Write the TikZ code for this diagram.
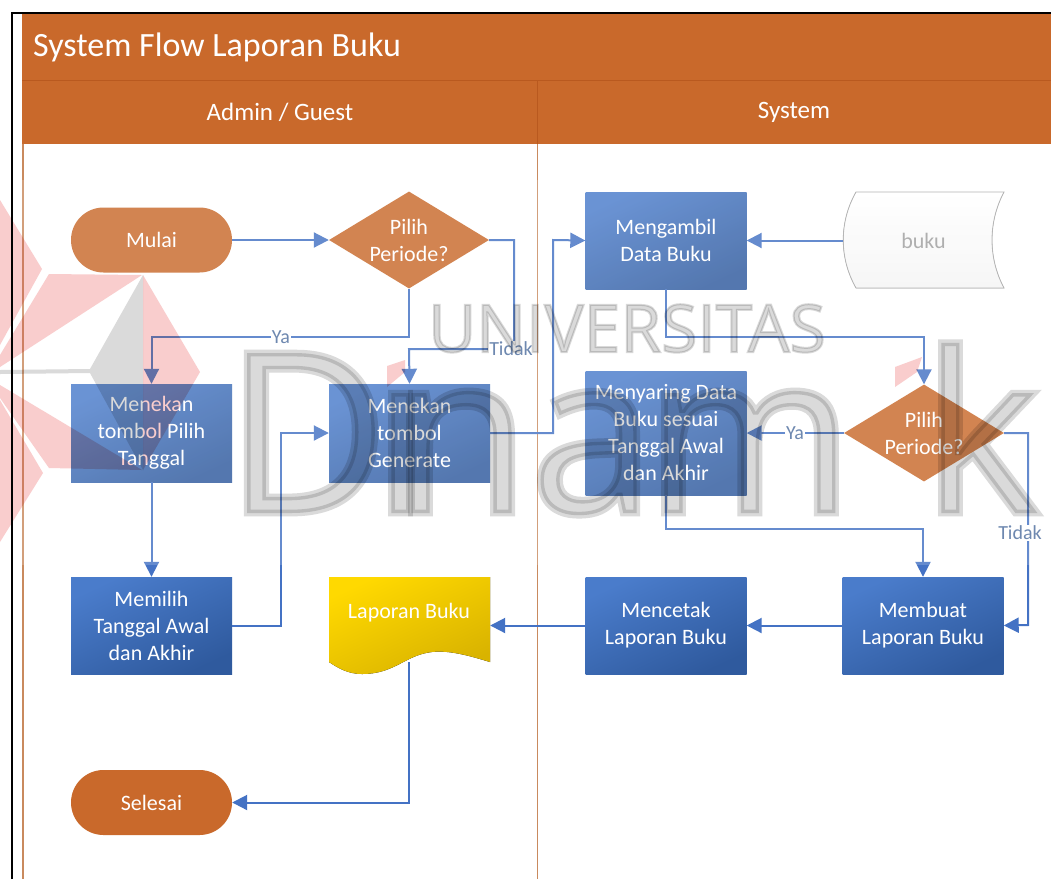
\documentclass[tikz,border=0pt]{standalone}
\usepackage{fontspec}
\setmainfont{Carlito}
\newfontfamily\wmfont[FakeBold=3]{Open Sans}
\usetikzlibrary{arrows.meta,shapes.geometric,shapes.misc,positioning}
\definecolor{poolor}{HTML}{C9692B}
\definecolor{poolline}{HTML}{B9591F}
\definecolor{lanel}{HTML}{C98A5E}
\definecolor{conn}{HTML}{4472C4}
\definecolor{lab}{HTML}{4F6F9F}
\definecolor{wmgrey}{HTML}{DADADA}
\definecolor{wmred}{HTML}{F9CDCD}
\definecolor{bluea}{HTML}{4A7CCB}
\definecolor{blueb}{HTML}{2F5A9E}
\tikzset{
  x=1pt,y=-1pt,
  bodytxt/.style={text=white,font=\fontsize{22}{27}\selectfont,align=center,inner sep=0pt},
  flowbox/.style={bodytxt,rectangle,minimum width=161pt,top color=bluea,bottom color=blueb,shading angle=25},
  decbox/.style={bodytxt,diamond,fill=poolor,minimum width=160pt,minimum height=97pt,shape aspect=1.65,inner sep=-1pt},
  termbox/.style={bodytxt,rounded rectangle,fill=poolor,minimum width=161pt,minimum height=65pt},
  ghost/.style={rectangle,inner sep=0pt,minimum width=161pt},
  link/.style={draw=conn,line width=2pt,-{Triangle[length=15pt,width=15pt]}},
  plainlink/.style={draw=conn,line width=2pt},
  flowlabel/.style={text=lab,fill=white,font=\fontsize{20}{22}\selectfont,inner sep=1pt},
  headtxt/.style={text=white,inner sep=0pt},
  wmletter/.style={anchor=base west,inner sep=0pt,text=wmgrey,font=\wmfont\fontsize{224}{224}\selectfont}
}
\begin{document}
\begin{tikzpicture}
\useasboundingbox (0,0) rectangle (1051,879);
\fill[white] (0,0) rectangle (1051,879);
% pool
\fill[poolor] (22,14) rectangle (1051,144);
\draw[poolline,line width=.8pt] (22,80) -- (1051,80);
\draw[poolline,line width=.8pt] (537,80) -- (537,144);
\draw[lanel,line width=1.6pt] (23,144) -- (23,879);
\draw[lanel,line width=1pt] (537,144) -- (537,879);
\node[headtxt,anchor=west,font=\fontsize{34}{36}\selectfont] (title) at (33,47) {System Flow Laporan Buku};
\node[headtxt,font=\fontsize{25}{28}\selectfont] (lane1) at (280,112) {Admin / Guest};
\node[headtxt,font=\fontsize{25}{28}\selectfont] (lane2) at (794,112) {System};
% special shapes
\fill[top color=white,bottom color=white!96!black,draw=black!35,line width=.8pt]
  (856,192) -- (1004,192) .. controls (988,222) and (988,258) .. (1004,288) -- (856,288)
  .. controls (839,258) and (839,222) .. (856,192) -- cycle;
\path[fill=none] (329,577);
\fill[left color=yellow!80!orange,right color=yellow!60!orange!85!black,top color=white!0!yellow!70!orange,bottom color=yellow!65!orange!85!black,shading angle=25]
  (329,577) -- (490,577) -- (490,662) .. controls (470,656) and (450,650) .. (432,652)
  .. controls (405,655) and (395,674) .. (362,674) .. controls (348,674) and (338,668) .. (329,662) -- cycle;
% nodes
\node[termbox] (mulai) at (151.5,240) {Mulai};
\node[decbox] (d1) at (409,240) {Pilih\\Periode?};
\node[flowbox,minimum height=98pt] (tekan1) at (151.5,433) {Menekan\\tombol Pilih\\Tanggal};
\node[flowbox,minimum height=98pt] (tekan2) at (409.5,433) {Menekan\\tombol\\Generate};
\node[flowbox,minimum height=97pt] (pilih) at (151.5,625.5) {Memilih\\Tanggal Awal\\dan Akhir};
\node[ghost,minimum height=97pt] (lap) at (409.5,625.5) {};
\node[bodytxt] (laptxt) at (409,613) {Laporan Buku};
\coordinate (lapb) at (409,662);
\node[termbox,fill=poolor] (selesai) at (151.5,802.5) {Selesai};
\node[flowbox,minimum height=97pt] (ambil) at (666,240.5) {Mengambil\\Data Buku};
\node[ghost,minimum height=97pt,font=\fontsize{22}{27}\selectfont,text=black!38] (buku) at (923.5,240.5) {buku};
\node[flowbox,minimum height=124pt] (saring) at (666,433) {Menyaring Data\\Buku sesuai\\Tanggal Awal\\dan Akhir};
\node[decbox] (d2) at (924,433) {Pilih\\Periode?};
\node[flowbox,minimum height=97pt] (cetak) at (666,625.5) {Mencetak\\Laporan Buku};
\node[flowbox,minimum height=97pt] (buat) at (923,625.5) {Membuat\\Laporan Buku};
% connectors
\draw[link] (mulai.east) -- (d1.west);
\draw[link] (d1.south) |- (281,337) -| (tekan1.north);
\draw[link] (d1.east) -| (514,349) -- (409,349) -- (tekan2.north);
\draw[link] (tekan1.south) -- (pilih.north);
\draw[link] (pilih.east) -| (281,433) -- (tekan2.west);
\draw[link] (tekan2.east) -| (553,240) -- (ambil.west);
\draw[link] (buku.west) -- (ambil.east);
\draw[link] (ambil.south) |- (795,337) -| (d2.north);
\draw[link] (d2.west) -- (saring.east);
\draw[link] (d2.east) -| (1028,625) -- (buat.east);
\draw[link] (saring.south) |- (795,529) -| (buat.north);
\draw[link] (buat.west) -- (cetak.east);
\draw[link] (cetak.west) -- (lap.east);
\draw[link] (lapb) |- (selesai.east);
% connector labels
\node[flowlabel] (ya1) at (281,337) {Ya};
\node[flowlabel] (tidak1) at (511,349) {Tidak};
\node[flowlabel] (ya2) at (795,433) {Ya};
\node[flowlabel] (tidak2) at (1020,533) {Tidak};
% veil and watermark
\fill[white,opacity=.18] (22,180) rectangle (1051,565);
\begin{scope}[blend mode=multiply]
\clip (0,0) rectangle (1051,879);
\fill[wmred] (0,200) -- (42,269) -- (0,345) -- cycle;
\fill[wmred] (49,274) -- (142,275) -- (0,367) -- (0,355) -- cycle;
\fill[wmred] (143,275) -- (200,372) -- (143,470) -- cycle;
\fill[wmred] (0,385) -- (142,470) -- (49,468) -- (0,398) -- cycle;
\fill[wmred] (0,400) -- (43,473) -- (0,542) -- cycle;
\fill[wmgrey] (143,275) -- (90,369) -- (0,370) -- (0,374) -- (90,373) -- (143,470) -- cycle;
\fill[wmred] (387,387) -- (387,366) -- (405,360) -- (405,372) -- cycle;
\fill[wmred] (895,387) -- (895,367) -- (922,357) -- (917,372) -- cycle;
\node[anchor=base west,inner sep=0pt,text=wmgrey,font=\wmfont\fontsize{66}{66}\selectfont] (wm1) at (428,352) {UNIVERSITAS};
\node[wmletter] (wmD) at (225,513) {D};
\node[wmletter] (wmI) at (372,513) {ı};
\node[wmletter] (wmN) at (392,513) {n};
\node[wmletter] (wmA) at (530,513) {a};
\node[wmletter] (wmM) at (645,513) {m};
\node[wmletter] (wmK) at (922,513) {k};
\end{scope}
% outer frame
\draw[black,line width=2pt] (12,879) -- (12,12.5) -- (1051,12.5);
\end{tikzpicture}
\end{document}
